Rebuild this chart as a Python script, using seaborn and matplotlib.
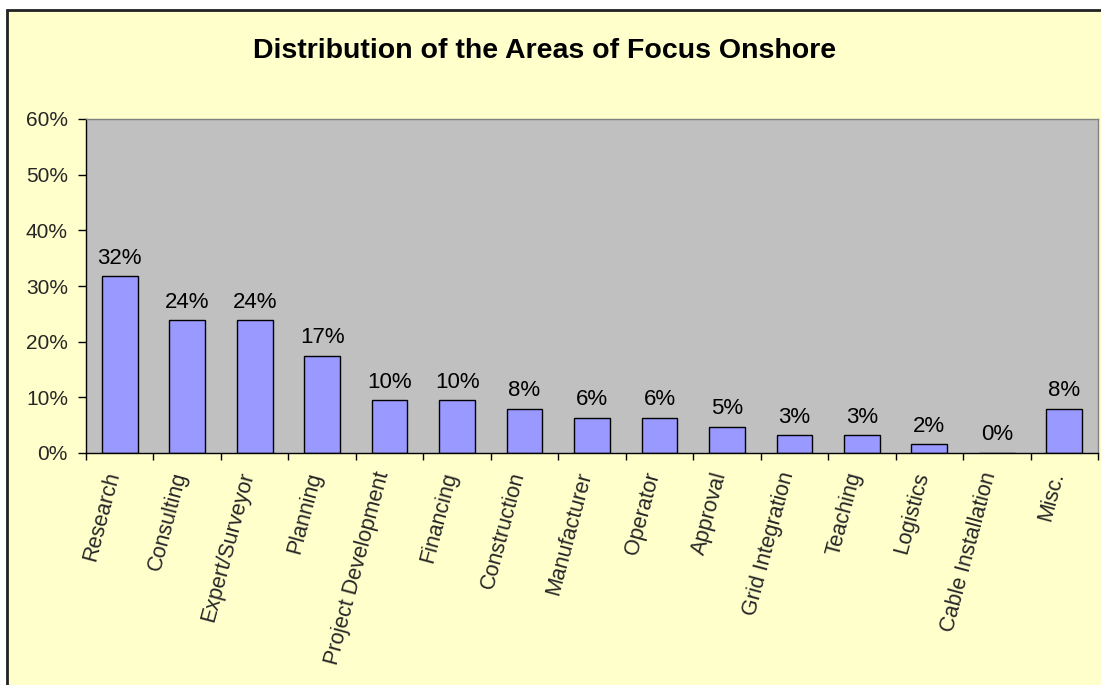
import matplotlib
matplotlib.use("Agg")
import matplotlib.pyplot as plt
import matplotlib.transforms as mtransforms
from matplotlib.patches import Rectangle
from matplotlib.ticker import PercentFormatter
import seaborn as sns
import pandas as pd

categories = ["Research", "Consulting", "Expert/Surveyor", "Planning",
              "Project Development", "Financing", "Construction",
              "Manufacturer", "Operator", "Approval", "Grid Integration",
              "Teaching", "Logistics", "Cable Installation", "Misc."]
shares = [0.3175, 0.2381, 0.2381, 0.1746, 0.0952, 0.0952, 0.0794,
          0.0635, 0.0635, 0.0476, 0.0317, 0.0317, 0.0159, 0.0, 0.0794]
y_ticks = [0.0, 0.1, 0.2, 0.3, 0.4, 0.5, 0.6]
title = "Distribution of the Areas of Focus Onshore"

sns.set_style("white")
plt.rcParams['font.family'] = ['Liberation Sans', 'DejaVu Sans']

df = pd.DataFrame({"area": categories, "share": shares})

W, H = 1101, 685
fig = plt.figure(figsize=(W / 100, H / 100), dpi=100, facecolor="white")
# outer chart frame
frame = Rectangle((7 / W, -0.1), 1.2, 1.1 - 10 / H,
                  transform=fig.transFigure, facecolor="#FFFFCC",
                  edgecolor="#222222", linewidth=2, zorder=-10)
fig.patches.append(frame)

ax = fig.add_axes([86 / W, 1 - 453 / H, (1098 - 86) / W, (453 - 119) / H])
ax.set_zorder(1)
ax.set_facecolor("#C0C0C0")

sns.barplot(data=df, x="area", y="share", order=categories, color="#9999FF",
            saturation=1, width=0.53, edgecolor="black", linewidth=1, ax=ax)

for i, v in enumerate(shares):
    ax.annotate(f"{v:.0%}", (i, v), xytext=(0, 9), textcoords="offset points",
                ha="center", va="baseline", fontsize=16, color="black")

ax.set_ylim(0, 0.6)
ax.set_yticks(y_ticks)
ax.yaxis.set_major_formatter(PercentFormatter(1.0, decimals=0))
ax.set_xlim(-0.5, len(categories) - 0.5)
ax.set_xlabel("")
ax.set_ylabel("")

ax.tick_params(axis="y", direction="out", length=6, width=1, color="black",
               labelsize=15, pad=7, left=True)
ax.tick_params(axis="x", labelsize=15.5, pad=12, bottom=True)
ax.set_xticks([i - 0.5 for i in range(len(categories) + 1)], minor=True)
ax.tick_params(axis="x", which="minor", direction="out", length=5, width=1,
               color="black", bottom=True)
ax.tick_params(axis="x", which="major", length=0)
shift = mtransforms.ScaledTranslation(4 / 100, 0, fig.dpi_scale_trans)
for lab in ax.get_xticklabels():
    lab.set_rotation(75)
    lab.set_ha("right")
    lab.set_transform(lab.get_transform() + shift)

for side in ["top", "right"]:
    ax.spines[side].set_color("#808080")
    ax.spines[side].set_linewidth(1)
for side in ["left", "bottom"]:
    ax.spines[side].set_color("black")
    ax.spines[side].set_linewidth(1)

fig.text(545 / W, 1 - 51 / H, title, ha="center", va="center",
         fontsize=20.5, fontweight="bold", color="black")

fig.savefig("out.png", dpi=100, facecolor=fig.get_facecolor())
